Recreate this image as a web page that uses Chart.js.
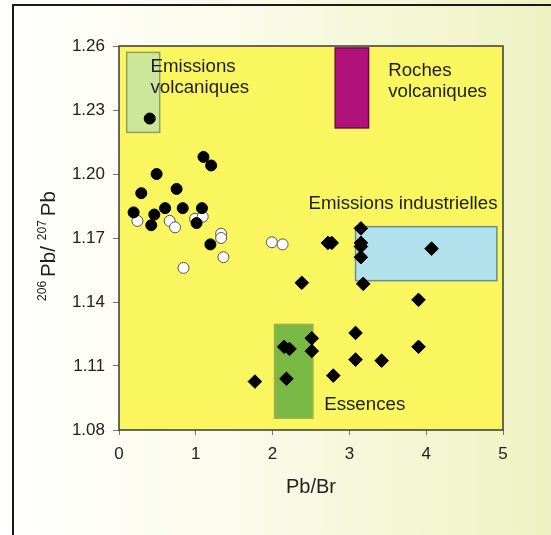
<!DOCTYPE html>
<html>
<head>
<meta charset="utf-8">
<script src="https://cdn.jsdelivr.net/npm/chart.js@4"></script>
<style>
  html, body { margin: 0; padding: 0; }
  #wrap {
    position: relative; width: 551px; height: 535px; overflow: hidden;
    background: linear-gradient(to right, #ffffff 0%, #fafbe9 45%, #eef2c2 100%);
  }
  #frame {
    position: absolute; left: 12px; top: 4px; right: -4px; bottom: -4px;
    border-left: 2px solid #1a1a1a; border-top: 2px solid #1a1a1a;
  }
  canvas { position: absolute; left: 0; top: 0; }
</style>
</head>
<body>
<div id="wrap">
  <div id="frame"></div>
  <canvas id="chart" width="551" height="535"></canvas>
</div>
<script>
// axis ticks
const xTicks = [0, 1, 2, 3, 4, 5];
const yTicks = [1.08, 1.11, 1.14, 1.17, 1.20, 1.23, 1.26];

// filled circles
const filledX = [0.40, 1.10, 1.20, 0.49, 0.29, 0.75, 0.19, 0.46, 0.60, 0.83, 1.08, 0.42, 1.01, 1.19];
const filledY = [1.226, 1.208, 1.204, 1.200, 1.191, 1.193, 1.182, 1.181, 1.184, 1.184, 1.184, 1.176, 1.177, 1.167];

// open circles
const openX = [0.24, 0.66, 0.73, 0.99, 1.09, 1.33, 1.33, 1.36, 0.84, 1.99, 2.13];
const openY = [1.178, 1.178, 1.175, 1.179, 1.180, 1.172, 1.170, 1.161, 1.156, 1.168, 1.167];

// diamonds
const diaX = [3.15, 2.72, 2.77, 3.15, 3.15, 3.15, 4.07, 2.38, 3.18, 3.90, 3.08, 2.51, 2.15, 2.22, 2.51, 3.90, 3.08, 3.42, 2.18, 2.79, 1.77];
const diaY = [1.1745, 1.1677, 1.1677, 1.1677, 1.166, 1.161, 1.165, 1.149, 1.1485, 1.141, 1.1255, 1.123, 1.119, 1.118, 1.117, 1.119, 1.113, 1.1125, 1.104, 1.1055, 1.1027];

// source fields: [xmin, xmax, ymin, ymax]
const fieldNames = ['Emissions volcaniques', 'Roches volcaniques', 'Emissions industrielles', 'Essences'];
const fieldRanges = [
  [0.10, 0.53, 1.2195, 1.257],
  [2.815, 3.25, 1.2216, 1.2591],
  [3.08, 4.92, 1.150, 1.1753],
  [2.025, 2.525, 1.0855, 1.1295]
];
const fieldFill = ['#cde79a', '#b0117a', '#b1e1ec', '#79b845'];
const fieldEdge = ['#8f9f62', '#6a1048', '#6f8d88', '#a0b04c'];

// label lines and anchor (data units, left / middle)
const fieldLabels = [
  { lines: ['Emissions', 'volcaniques'], x: 0.41, y: 1.2503 },
  { lines: ['Roches', 'volcaniques'], x: 3.505, y: 1.2485 },
  { lines: ['Emissions industrielles'], x: 2.467, y: 1.1861 },
  { lines: ['Essences'], x: 2.672, y: 1.0919 }
];

const pts = (xs, ys) => xs.map((x, i) => ({ x: x, y: ys[i] }));
const FONT = '"Liberation Sans", Arial, sans-serif';

const decor = {
  id: 'decor',
  beforeDatasetsDraw(chart) {
    const { ctx, chartArea: a, scales: { x, y } } = chart;
    ctx.save();
    ctx.fillStyle = '#f9f65f';
    ctx.fillRect(a.left, a.top, a.right - a.left, a.bottom - a.top);
    fieldRanges.forEach((r, i) => {
      const x0 = x.getPixelForValue(r[0]), x1 = x.getPixelForValue(r[1]);
      const y0 = y.getPixelForValue(r[3]), y1 = y.getPixelForValue(r[2]);
      ctx.fillStyle = fieldFill[i];
      ctx.fillRect(x0, y0, x1 - x0, y1 - y0);
      ctx.strokeStyle = fieldEdge[i];
      ctx.lineWidth = 1.5;
      ctx.strokeRect(x0, y0, x1 - x0, y1 - y0);
    });
    ctx.fillStyle = '#1e1e1e';
    ctx.font = '18.7px ' + FONT;
    ctx.textAlign = 'left';
    ctx.textBaseline = 'middle';
    fieldLabels.forEach(l => {
      const px = x.getPixelForValue(l.x), py = y.getPixelForValue(l.y);
      l.lines.forEach((t, j) => ctx.fillText(t, px, py + j * 21.5));
    });
    ctx.strokeStyle = '#3a3a3a';
    ctx.lineWidth = 1.5;
    ctx.strokeRect(a.left, a.top, a.right - a.left, a.bottom - a.top);
    ctx.restore();
  },
  afterDraw(chart) {
    // y title with superscripts, rotated
    const { ctx } = chart;
    const parts = [['206', 12, -9, 4], ['Pb/', 20.5, 0, 6], ['207', 12, -9, 4], ['Pb', 20.5, 0, 0]];
    ctx.save();
    ctx.fillStyle = '#1e1e1e';
    let total = 0;
    parts.forEach(p => { ctx.font = p[1] + 'px ' + FONT; total += ctx.measureText(p[0]).width + p[3]; });
    ctx.translate(55, 246);
    ctx.rotate(-Math.PI / 2);
    ctx.textBaseline = 'alphabetic';
    ctx.textAlign = 'left';
    let cx = -total / 2;
    parts.forEach(p => {
      ctx.font = p[1] + 'px ' + FONT;
      ctx.fillText(p[0], cx, p[2]);
      cx += ctx.measureText(p[0]).width + p[3];
    });
    ctx.restore();
  }
};

new Chart(document.getElementById('chart'), {
  type: 'scatter',
  data: {
    datasets: [
      { data: pts(filledX, filledY), pointStyle: 'circle', radius: 5.5, backgroundColor: '#000', borderColor: '#000', borderWidth: 1 },
      { data: pts(openX, openY), pointStyle: 'circle', radius: 5.5, backgroundColor: '#fff', borderColor: '#555', borderWidth: 1 },
      { data: pts(diaX, diaY), pointStyle: 'rectRot', radius: 6.8, backgroundColor: '#000', borderColor: '#000', borderWidth: 1 }
    ]
  },
  options: {
    responsive: false,
    animation: false,
    layout: { padding: { left: 0, top: 46, right: 48, bottom: 0 } },
    plugins: { legend: { display: false }, tooltip: { enabled: false } },
    scales: {
      x: {
        type: 'linear', min: 0, max: 5,
        afterBuildTicks: s => { s.ticks = xTicks.map(v => ({ value: v })); },
        afterFit: s => { s.height = 105; },
        ticks: { color: '#222', font: { family: FONT, size: 17 }, padding: 9 },
        grid: { drawOnChartArea: false, tickLength: 5, color: '#777' },
        border: { display: false },
        title: { display: true, text: 'Pb/Br', color: '#222', font: { family: FONT, size: 20 }, padding: { top: 0, bottom: 36 } }
      },
      y: {
        type: 'linear', min: 1.08, max: 1.26,
        afterBuildTicks: s => { s.ticks = yTicks.map(v => ({ value: v })); },
        afterFit: s => { s.width = 119; },
        ticks: { color: '#222', font: { family: FONT, size: 17 }, padding: 8, callback: v => v.toFixed(2) },
        grid: { drawOnChartArea: false, tickLength: 6, color: '#777' },
        border: { display: false }
      }
    }
  },
  plugins: [decor]
});
</script>
</body>
</html>
